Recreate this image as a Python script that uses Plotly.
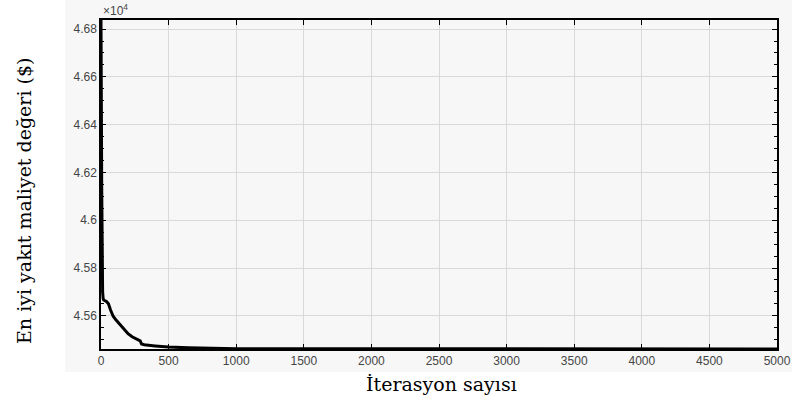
import plotly.graph_objects as go

# Data (best fuel cost value vs. iteration)
iterations = [0, 1, 2, 3, 4, 5, 7, 9, 12, 16, 20, 40, 55, 70, 90, 110, 130, 150, 170,
              200, 230, 260, 290, 300, 320, 400, 500, 650, 800, 1000, 1500, 2000, 5000]
best_cost = [46845, 46780, 46650, 46480, 46300, 46150, 45950, 45800, 45700, 45672, 45666,
             45660, 45650, 45625, 45598, 45583, 45570, 45553, 45540, 45525, 45512, 45503,
             45495, 45482, 45479, 45474, 45469, 45466, 45464, 45462, 45461.8, 45461.6, 45461.5]

y_tick_vals = [45600, 45800, 46000, 46200, 46400, 46600, 46800]
y_tick_text = ["4.56", "4.58", "4.6", "4.62", "4.64", "4.66", "4.68"]
x_tick_vals = [0, 500, 1000, 1500, 2000, 2500, 3000, 3500, 4000, 4500, 5000]

x_title = "İterasyon sayısı"
y_title = "En iyi yakıt maliyet değeri ($)"

W, H = 792, 409
L, R, T, B = 101, 15, 20, 60
pw, ph = W - L - R, H - T - B

def px_to_paper_x(px):
    return (px - L) / pw

def px_to_paper_y(py):
    return (H - B - py) / ph

fig = go.Figure()
fig.add_trace(go.Scatter(x=iterations, y=best_cost, mode="lines",
                         line=dict(color="black", width=3), showlegend=False,
                         cliponaxis=True))

tick_font = dict(family="Liberation Sans, Arial, sans-serif", size=12, color="#454545")
serif = "DejaVu Serif, Liberation Serif, serif"

fig.update_layout(
    width=W, height=H,
    margin=dict(l=L, r=R, t=T, b=B, autoexpand=False),
    paper_bgcolor="white",
    plot_bgcolor="#f7f7f7",
    showlegend=False,
    xaxis=dict(range=[0, 5000], tickvals=x_tick_vals, showgrid=True, gridcolor="#d9d9d9",
               gridwidth=1, showline=True, linecolor="black", linewidth=1.5, mirror="ticks",
               ticks="inside", ticklen=5, tickcolor="black", tickfont=tick_font,
               zeroline=False, fixedrange=True, automargin=False),
    yaxis=dict(range=[45461, 46838], tickvals=y_tick_vals, ticktext=y_tick_text,
               showgrid=True, gridcolor="#d9d9d9", gridwidth=1, showline=True,
               linecolor="black", linewidth=1.5, mirror="ticks", ticks="inside", ticklen=5,
               tickcolor="black", tickfont=tick_font, zeroline=False, automargin=False,
               minor=dict(ticks="inside", dtick=50, tick0=45600, ticklen=3,
                          tickcolor="black", showgrid=False)),
    shapes=[dict(type="rect", xref="paper", yref="paper", layer="below",
                 x0=px_to_paper_x(65), x1=px_to_paper_x(792),
                 y0=px_to_paper_y(372), y1=px_to_paper_y(0),
                 fillcolor="#f7f7f7", line=dict(width=0))],
    annotations=[
        dict(text="×10<sup>4</sup>", xref="paper", yref="paper", x=0, y=1,
             xanchor="left", yanchor="bottom", showarrow=False, yshift=0,
             font=dict(family="Liberation Sans, Arial, sans-serif", size=12, color="#454545")),
        dict(text=x_title, xref="paper", yref="paper", x=px_to_paper_x(441),
             y=px_to_paper_y(384), xanchor="center", yanchor="middle", showarrow=False,
             font=dict(family=serif, size=19, color="black")),
        dict(text=y_title, xref="paper", yref="paper", x=px_to_paper_x(24),
             y=px_to_paper_y(201), xanchor="center", yanchor="middle", showarrow=False,
             textangle=-90,
             font=dict(family=serif, size=19, color="black")),
    ],
)

fig.write_html("out.html", config={"displayModeBar": False},
               post_script="document.body.style.margin='0';")
